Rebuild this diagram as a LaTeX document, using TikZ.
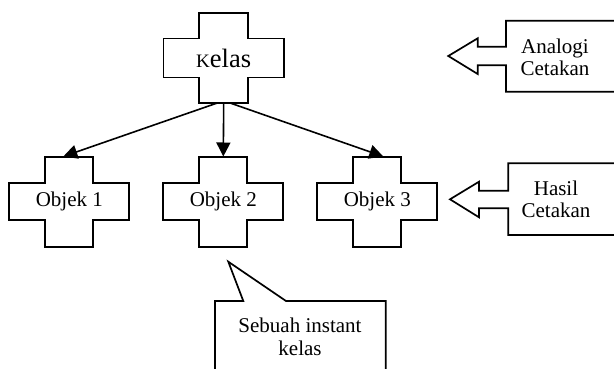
\documentclass[tikz,border=0pt]{standalone}
\usepackage{fontspec}
\setmainfont{Liberation Serif}
\usetikzlibrary{arrows.meta}
\tikzset{
  x=1pt,y=-1pt,
  shapeline/.style={draw=black,line width=1.7pt,line join=miter},
  txt/.style={font=\fontsize{21}{22.5}\selectfont,align=center,inner sep=0pt},
  plusnode/.style={txt,minimum width=#1,minimum height=90pt},
  conn/.style={line width=1.6pt,-{Triangle[length=14pt,width=14pt]}},
}
\newcommand{\plusbox}[5]{%
  \draw[shapeline,shift={(#1.center)}] (-#4,-#3) -- (#4,-#3) -- (#4,-#5) -- (#2,-#5) -- (#2,#5) -- (#4,#5) -- (#4,#3) -- (-#4,#3) -- (-#4,#5) -- (-#2,#5) -- (-#2,-#5) -- (-#4,-#5) -- cycle;}
\begin{document}
\begin{tikzpicture}
\useasboundingbox (0,0) rectangle (614,369);
\clip (0,0) rectangle (614,369);
% class
\node[plusnode=120.6pt,font=\fontsize{26.5}{28}\selectfont] (k) at (223.7,58) {{\fontsize{19}{20}\selectfont K}elas};
\plusbox{k}{60.3}{45}{24.5}{19.5}
% objects
\node[plusnode=120pt] (o1) at (69.3,201.7) {Objek 1};
\node[plusnode=120pt] (o2) at (223.3,201.7) {Objek 2};
\node[plusnode=120pt] (o3) at (377.3,201.7) {Objek 3};
\plusbox{o1}{60}{45}{24}{18.5}
\plusbox{o2}{60}{45}{24}{18.5}
\plusbox{o3}{60}{45}{24}{18.5}
% connectors
\draw[conn] ([xshift=-7pt]k.south) -- ([xshift=-6pt]o1.north);
\draw[conn] (k.south) -- (o2.north);
\draw[conn] ([xshift=7pt]k.south) -- ([xshift=6pt]o3.north);
% callout: Analogi Cetakan
\draw[shapeline] (506,46.7) -- (506,20.7) -- (618,20.7) -- (618,91.7) -- (506,91.7) -- (506,65.3) -- (477.7,65.3) -- (477.7,74) -- (448.3,56) -- (477.7,38.3) -- (477.7,46.7) -- cycle;
\node[txt] (ana) at (555,57.5) {Analogi\\Cetakan};
% callout: Hasil Cetakan
\draw[shapeline] (508.3,190.7) -- (508.3,163.3) -- (618,163.3) -- (618,235) -- (508.3,235) -- (508.3,208.3) -- (479,208.3) -- (479,217.3) -- (450,199.3) -- (479,181.7) -- (479,190.7) -- cycle;
\node[txt] (has) at (556,199.5) {Hasil\\Cetakan};
% callout: Sebuah instant kelas
\draw[shapeline] (243.3,301) -- (228.3,261.7) -- (286,301) -- (385.7,301) -- (385.7,375) -- (215,375) -- (215,301) -- cycle;
\node[txt] (seb) at (300,337) {Sebuah instant\\kelas};
\end{tikzpicture}
\end{document}
